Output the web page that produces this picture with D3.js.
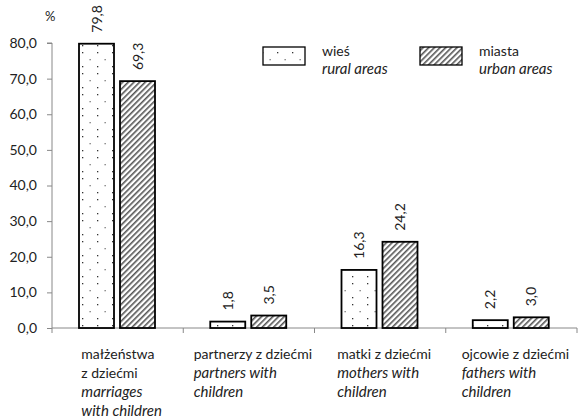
<!DOCTYPE html>
<html><head><meta charset="utf-8">
<script src="https://cdn.jsdelivr.net/npm/d3@7"></script>
<style>body{margin:0;background:#fff}svg{display:block;font-family:Lato,"Open Sans",sans-serif}</style>
</head><body><svg id="c" width="579" height="419"></svg>
<script>
const categoriesPL = [["małżeństwa","z dziećmi"],["partnerzy z dziećmi"],["matki z dziećmi"],["ojcowie z dziećmi"]];
const categoriesEN = [["marriages","with children"],["partners with","children"],["mothers with","children"],["fathers with","children"]];
const rural = [79.8, 1.8, 16.3, 2.2];
const urban = [69.3, 3.5, 24.2, 3.0];
const yTicks = [0,10,20,30,40,50,60,70,80];
const seriesPL = ["wieś","miasta"];
const seriesEN = ["rural areas","urban areas"];

const FS = 14, FSI = 15;
const svg = d3.select("#c");
const defs = svg.append("defs");
const pd = defs.append("pattern").attr("id","dots").attr("patternUnits","userSpaceOnUse")
  .attr("width",15).attr("height",21).attr("x",79).attr("y",0);
pd.append("rect").attr("width",15).attr("height",21).attr("fill","#fff");
[[3,3,"#333"],[3,10,"#333"],[10.5,17,"#777"]].forEach(([x,y,c])=>pd.append("rect").attr("x",x).attr("y",y).attr("width",1.3).attr("height",1.3).attr("fill",c));
const ph = defs.append("pattern").attr("id","hatch").attr("patternUnits","userSpaceOnUse")
  .attr("width",4).attr("height",4).attr("patternTransform","rotate(45)");
ph.append("rect").attr("width",4).attr("height",4).attr("fill","#fff");
ph.append("rect").attr("x",0).attr("y",0).attr("width",1.6).attr("height",4).attr("fill","#555");

const x0 = 52, x1 = 577, yTop = 43, yBot = 328;
const y = d3.scaleLinear().domain([0,80]).range([yBot,yTop]);
const xb = d3.scaleBand().domain(d3.range(4)).range([x0,x1]);

// axes
const ya = d3.axisLeft(y).tickValues(yTicks).tickSize(5).tickFormat(d=>d3.format(".1f")(d).replace(".",","));
const gy = svg.append("g").attr("transform",`translate(${x0},0)`).call(ya);
gy.select(".domain").attr("stroke","#888").attr("d",`M-5,${yTop}H0V${yBot}`);
gy.selectAll(".tick line").attr("stroke","#888");
gy.selectAll(".tick text").attr("font-size",FS).attr("font-family","Lato").attr("fill","#222").attr("x",-15);

svg.append("line").attr("x1",x0).attr("x2",x1).attr("y1",yBot).attr("y2",yBot).attr("stroke","#888");
[0,1,2,3,4].forEach(i=>{
  const xx = i<4 ? xb(i) : x1;
  svg.append("line").attr("x1",xx).attr("x2",xx).attr("y1",yBot).attr("y2",yBot+5).attr("stroke","#888");
});

svg.append("text").attr("x",45).attr("y",21).attr("font-size",13).attr("fill","#222").text("%");

const bw = 35, off1 = 27, off2 = 68;
const series = [{vals:rural, fill:"url(#dots)", off:off1},{vals:urban, fill:"url(#hatch)", off:off2}];
series.forEach(s=>{
  s.vals.forEach((v,i)=>{
    const bx = xb(i)+s.off;
    svg.append("rect").attr("x",bx).attr("y",y(v)).attr("width",bw).attr("height",yBot-y(v))
      .attr("fill",s.fill).attr("stroke","#000").attr("stroke-width",1.8);
    svg.append("text").attr("transform",`translate(${bx+bw/2+5},${y(v)-11}) rotate(-90)`)
      .attr("font-size",FS).attr("fill","#222").text(d3.format(".1f")(v).replace(".",","));
  });
});

// category labels: block centred in band, left-aligned lines
categoriesPL.forEach((pl,i)=>{
  const lines = pl.map(t=>({t,it:false})).concat(categoriesEN[i].map(t=>({t,it:true})));
  const t = svg.append("text").attr("fill","#222");
  const spans = lines.map((l,j)=>t.append("tspan").attr("y",359+j*19)
    .attr("font-size",l.it?FSI:FS).attr("font-style",l.it?"italic":"normal").text(l.t));
  const w = d3.max(spans, s=>s.node().getComputedTextLength());
  const cx = xb(i)+xb.bandwidth()/2+4;
  const left = Math.min(cx - w/2, 576 - w);
  spans.forEach(s=>s.attr("x",left));
});

// legend
const lg = [{x:263, fill:"url(#dots)"},{x:420, fill:"url(#hatch)"}];
lg.forEach((l,i)=>{
  svg.append("rect").attr("x",l.x).attr("y",47).attr("width",42).attr("height",18).attr("fill",l.fill).attr("stroke","#000").attr("stroke-width",1.3);
  svg.append("text").attr("x",l.x+59).attr("y",56).attr("font-size",FS).attr("fill","#222").text(seriesPL[i]);
  svg.append("text").attr("x",l.x+59).attr("y",74).attr("font-size",FSI).attr("font-style","italic").attr("fill","#222").text(seriesEN[i]);
});
</script></body></html>
